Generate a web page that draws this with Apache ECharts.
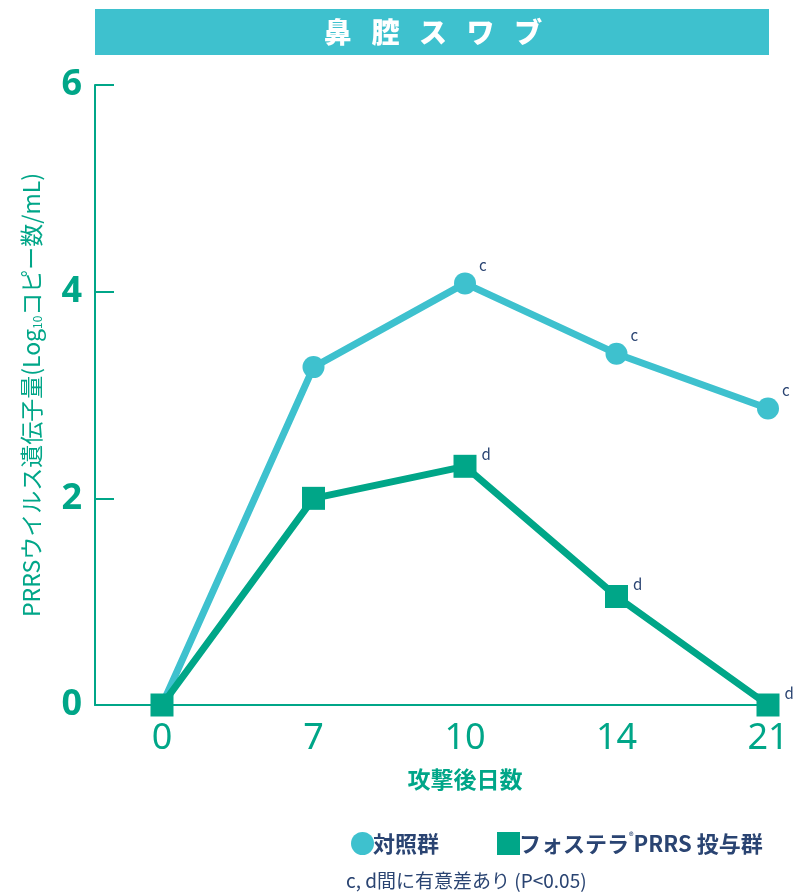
<!DOCTYPE html>
<html><head><meta charset="utf-8">
<script src="https://cdn.jsdelivr.net/npm/echarts@6/dist/echarts.min.js"></script>
<style>html,body{margin:0;padding:0;background:#fff}#c{width:796px;height:895px}</style>
</head><body><div id="c"></div>
<script>
const categories = ['0', '7', '10', '14', '21'];
const controlValues = [0, 3.27, 4.08, 3.40, 2.87];
const fosteraValues = [0, 2.00, 2.31, 1.05, 0];
const controlSig = ['', '', 'c', 'c', 'c'];
const fosteraSig = ['', '', 'd', 'd', 'd'];
const yTicks = [0, 2, 4, 6];

const GREEN = '#00A688', CYAN = '#3EC1CE', NAVY = '#2A4472';
const CJK = "'Noto Sans CJK JP', 'Noto Sans', sans-serif";
const NUM = "'Noto Sans', sans-serif";

const chart = echarts.init(document.getElementById('c'), null, {renderer: 'canvas'});
const gridTop = 85, gridBottom = 190;
chart.setOption({
  animation: false,
  graphic: [
    {type: 'rect', shape: {x: 95, y: 9, width: 674, height: 46}, style: {fill: CYAN}, silent: true},
    {type: 'text', x: 433, y: 32, style: {text: '鼻\u2002\u2009腔\u2002\u2009ス\u2002\u2009ワ\u2002\u2009ブ', fill: '#fff', font: "900 28px 'Noto Sans CJK JP'", align: 'center', verticalAlign: 'middle'}}
  ],
  title: [{
    text: 'c, d間に有意差あり (P<0.05)', left: 346, top: 871, padding: 0,
    textStyle: {fontSize: 19, fontWeight: 'normal', color: NAVY, fontFamily: CJK}
  }],
  legend: {
    left: 346, top: 827, itemWidth: 23, itemHeight: 23, itemGap: 58,
    data: [{name: '対照群', icon: 'circle'}, {name: 'フォステラ®PRRS 投与群', icon: 'rect'}],
    formatter: function (n) { return n.indexOf('®') >= 0 ? 'フォステラ{sup|®}PRRS 投与群' : n; },
    textStyle: {fontSize: 22, fontWeight: 'bold', color: NAVY, fontFamily: CJK, padding: [0, 0, 0, -6],
      rich: {sup: {fontSize: 9, fontWeight: 'bold', color: NAVY, verticalAlign: 'top', padding: [0, 0, 12, 0]}}}
  },
  grid: [
    {left: 95, right: 26, top: gridTop, bottom: gridBottom},
    {left: 162, right: 28, top: gridTop, bottom: gridBottom}
  ],
  xAxis: [
    {gridIndex: 0, type: 'value', min: 0, max: 1, axisLine: {show: true, lineStyle: {color: GREEN, width: 2}},
      axisTick: {show: false}, axisLabel: {show: false}, splitLine: {show: false}},
    {gridIndex: 1, type: 'category', data: categories, boundaryGap: false,
      axisLine: {show: false}, axisTick: {show: false}, splitLine: {show: false},
      axisLabel: {color: GREEN, fontSize: 36, fontFamily: NUM, margin: 16},
      name: '攻撃後日数', nameLocation: 'middle', nameGap: 63,
      nameTextStyle: {color: GREEN, fontSize: 23, fontWeight: 'bold', fontFamily: CJK}}
  ],
  yAxis: [
    {gridIndex: 0, type: 'value', min: 0, max: 6, interval: 2,
      axisLine: {show: true, lineStyle: {color: GREEN, width: 2}},
      axisTick: {show: true, inside: true, length: 19, lineStyle: {color: GREEN, width: 2}},
      axisLabel: {color: GREEN, fontSize: 36, fontWeight: 'bold', fontFamily: NUM, margin: 13,
        formatter: function (v) { return yTicks.indexOf(v) >= 0 ? String(v) : ''; }},
      splitLine: {show: false},
      name: 'PRRSウイルス遺伝子量(Log{sub|10}コピー数/mL)', nameLocation: 'middle', nameGap: 52,
      nameTextStyle: {color: GREEN, fontSize: 23, fontFamily: CJK,
        rich: {sub: {fontSize: 12, color: GREEN, fontFamily: CJK, verticalAlign: 'bottom', padding: [9, 0, 0, 0]}}}},
    {gridIndex: 1, type: 'value', min: 0, max: 6, show: false}
  ],
  series: [
    {name: '対照群', type: 'line', xAxisIndex: 1, yAxisIndex: 1, data: controlValues,
      symbol: 'circle', symbolSize: 22, lineStyle: {color: CYAN, width: 7}, itemStyle: {color: CYAN},
      label: {show: true, position: 'right', distance: 3, offset: [0, -18], color: NAVY, fontSize: 15, fontFamily: CJK,
        formatter: function (p) { return controlSig[p.dataIndex]; }}, z: 3},
    {name: 'フォステラ®PRRS 投与群', type: 'line', xAxisIndex: 1, yAxisIndex: 1, data: fosteraValues,
      symbol: 'rect', symbolSize: 23, lineStyle: {color: GREEN, width: 7}, itemStyle: {color: GREEN},
      label: {show: true, position: 'right', distance: 5, offset: [0, -12], color: NAVY, fontSize: 15, fontFamily: CJK,
        formatter: function (p) { return fosteraSig[p.dataIndex]; }}, z: 4}
  ]
});
</script></body></html>
